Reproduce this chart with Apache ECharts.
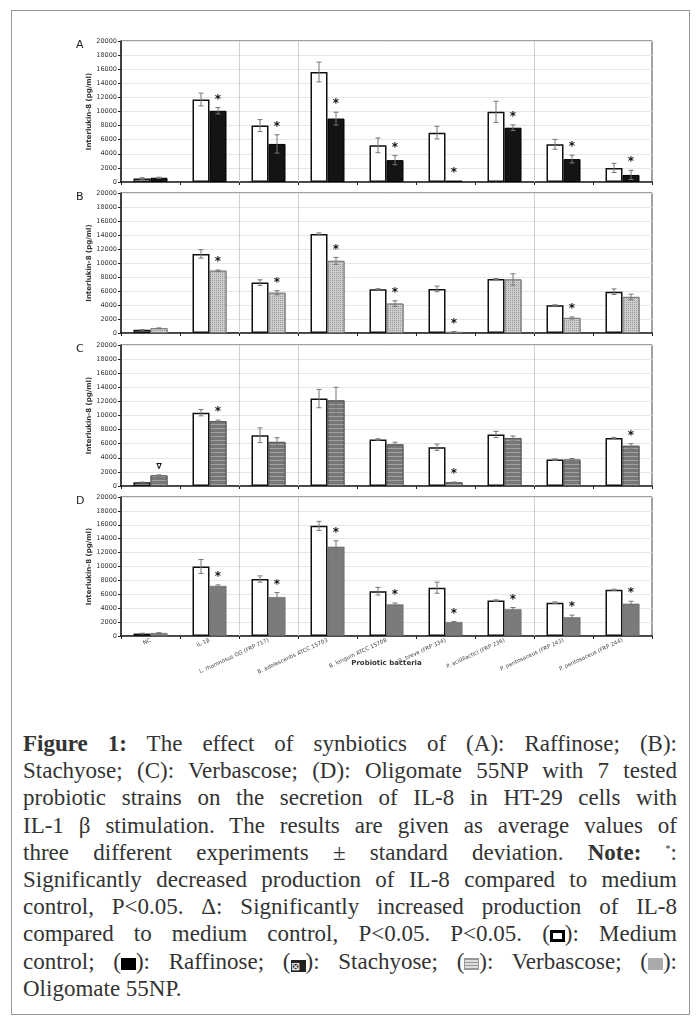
<!DOCTYPE html>
<html>
<head>
<meta charset="utf-8">
<script src="https://cdn.jsdelivr.net/npm/echarts@6/dist/echarts.min.js"></script>
<style>
body{margin:0;background:#fff;}
#frame{position:absolute;left:11px;top:10px;width:677px;height:1003px;border:1px solid #999;}
#main{position:absolute;left:0;top:0;width:697px;height:700px;}
#caption{position:absolute;left:23px;top:730px;width:654px;font-family:"Liberation Serif",serif;font-size:23px;line-height:27.2px;color:#333;}
#caption div{text-align:justify;text-align-last:justify;white-space:nowrap;height:27.2px;}
#caption div.last{text-align-last:left;}
.box{display:inline-block;width:15px;height:12px;vertical-align:-1px;box-sizing:border-box;}
.sup{position:relative;top:-8px;font-size:10px;line-height:0;}
</style>
</head>
<body>
<div id="frame"></div>
<div id="main"></div>
<div id="caption">
<div><b>Figure 1:</b> The effect of synbiotics of (A): Raffinose; (B):</div>
<div>Stachyose; (C): Verbascose; (D): Oligomate 55NP with 7 tested</div>
<div>probiotic strains on the secretion of IL-8 in HT-29 cells with</div>
<div>IL-1 β stimulation. The results are given as average values of</div>
<div>three different experiments ± standard deviation. <b>Note:</b> <span class="sup">*</span>:</div>
<div>Significantly decreased production of IL-8 compared to medium</div>
<div>control, P&lt;0.05. Δ: Significantly increased production of IL-8</div>
<div>compared to medium control, P&lt;0.05. P&lt;0.05. (<span class="box" style="border:3px solid #000;background:#fff"></span>): Medium</div>
<div>control; (<span class="box" style="background:#000"></span>): Raffinose; (<span class="box" style="background:#222;color:#fff;font-size:11px;line-height:12px;text-align:center">⊠</span>): Stachyose; (<span class="box" style="background:repeating-linear-gradient(#999 0 1px,#ddd 1px 3px);border:1px solid #999"></span>): Verbascose; (<span class="box" style="background:#aaa"></span>):</div>
<div class="last">Oligomate 55NP.</div>
</div>
<script>
var categories = ['NC', 'IL-1β', 'L. rhamnosus GG (FRP 717)', 'B. adolescentis ATCC 15703', 'B. longum ATCC 15708',
	'B. breve (FRP 334)', 'P. acidilactici (FRP 236)', 'P. pentosaceus (FRP 243)', 'P. pentosaceus (FRP 244)'];
var yTicks = [0, 20000, 2000];
var dividers = [2, 3, 7]; // categories that get a light vertical line on their left

// A: raffinose
var ctrlA = [500, 11700, 8000, 15600, 5200, 7000, 9950, 5350, 2000];
var ctrlErrA = [100, 900, 850, 1400, 1050, 900, 1500, 700, 650];
var raffinose = [600, 10100, 5400, 9000, 3100, 200, 7700, 3250, 1000];
var raffinoseErr = [80, 450, 1300, 900, 650, 0, 400, 550, 650];
var sigA = ['', '*', '*', '*', '*', '*', '*', '*', '*'];

// B: stachyose
var ctrlB = [450, 11300, 7200, 14150, 6250, 6300, 7700, 3950, 5900];
var ctrlErrB = [50, 600, 400, 150, 80, 400, 80, 80, 400];
var stachyose = [680, 8900, 5750, 10300, 4200, 150, 7650, 2150, 5150];
var stachyoseErr = [50, 100, 300, 500, 400, 50, 800, 150, 400];
var sigB = ['', '*', '*', '*', '*', '*', '', '*', ''];

// C: verbascose
var ctrlC = [520, 10400, 7200, 12400, 6600, 5500, 7300, 3750, 6800];
var ctrlErrC = [50, 450, 1050, 1300, 100, 450, 450, 100, 100];
var verbascose = [1500, 9200, 6250, 12150, 5900, 520, 6800, 3750, 5700];
var verbascoseErr = [80, 150, 600, 1850, 300, 50, 300, 150, 300];
var sigC = ['∇', '*', '', '', '', '*', '', '', '*'];

// D: oligomate 55NP
var ctrlD = [350, 10000, 8200, 15850, 6450, 6950, 5100, 4800, 6650];
var ctrlErrD = [50, 1000, 450, 650, 550, 800, 100, 100, 80];
var oligomate = [430, 7200, 5600, 12850, 4550, 2000, 3850, 2700, 4650];
var oligomateErr = [50, 150, 650, 850, 200, 80, 250, 300, 350];
var sigD = ['', '*', '*', '*', '*', '*', '*', '*', '*'];

var panels = [
	{letter: 'A', top: 41, height: 141, ctrl: ctrlA, ctrlErr: ctrlErrA, trt: raffinose, trtErr: raffinoseErr, sig: sigA,
		style: {color: '#141414', borderColor: '#000', borderWidth: 1}},
	{letter: 'B', top: 193, height: 140, ctrl: ctrlB, ctrlErr: ctrlErrB, trt: stachyose, trtErr: stachyoseErr, sig: sigB,
		style: {color: '#cdcdcd', borderColor: '#777', borderWidth: 0.8,
			decal: {symbol: 'rect', symbolSize: 1, color: 'rgba(120,120,120,0.6)', dashArrayX: [1, 1], dashArrayY: [1, 1]}}},
	{letter: 'C', top: 345, height: 141, ctrl: ctrlC, ctrlErr: ctrlErrC, trt: verbascose, trtErr: verbascoseErr, sig: sigC,
		style: {color: '#777', borderColor: '#555', borderWidth: 0.8,
			decal: {symbol: 'rect', symbolSize: 1, color: 'rgba(170,170,170,0.8)', dashArrayX: [1, 0], dashArrayY: [1, 3]}}},
	{letter: 'D', top: 497, height: 139, ctrl: ctrlD, ctrlErr: ctrlErrD, trt: oligomate, trtErr: oligomateErr, sig: sigD,
		style: {color: '#7b7b7b', borderColor: '#666', borderWidth: 0.6}}
];

var barW = 17;
var grids = [], xAxes = [], yAxes = [], titles = [], series = [];

panels.forEach(function(p, k){
	var last = k == panels.length - 1;
	grids.push({left: 121, right: 45, top: p.top, height: p.height, show: true, borderColor: '#444', borderWidth: 1});
	titles.push({text: p.letter, left: 71, top: p.top - 6, textStyle: {fontSize: 11, fontWeight: 'normal', color: '#222', fontFamily: 'DejaVu Sans'}});
	xAxes.push({
		type: 'category', gridIndex: k, data: categories,
		axisLine: {lineStyle: {color: '#222', width: 1.5}},
		axisTick: {show: true, length: 3, lineStyle: {color: '#222'}},
		axisLabel: {show: last, interval: 0, rotate: 25, fontSize: 5.5, color: '#444', margin: 4, fontFamily: 'DejaVu Sans'},
		splitLine: {show: false},
		name: last ? 'Probiotic bacteria' : '', nameLocation: 'middle', nameGap: 24, nameMoveOverlap: false,
		nameTextStyle: {fontSize: 7, fontWeight: 'bold', color: '#333', fontFamily: 'DejaVu Sans'}
	});
	yAxes.push({
		type: 'value', gridIndex: k, min: yTicks[0], max: yTicks[1], interval: yTicks[2],
		axisLine: {show: true, lineStyle: {color: '#222', width: 1.5}},
		axisTick: {show: true, length: 3, lineStyle: {color: '#222'}},
		axisLabel: {fontSize: 6.5, color: '#333', margin: 4, fontFamily: 'DejaVu Sans', formatter: function(v){ return String(v); }},
		splitLine: {lineStyle: {color: '#e6e6e6', width: 1}},
		name: 'Interlukin-8 (pg/ml)', nameLocation: 'middle', nameGap: 28, nameMoveOverlap: false,
		nameTextStyle: {fontSize: 7, fontWeight: 'bold', color: '#333', fontFamily: 'DejaVu Sans'}
	});
	// light vertical dividers between groups
	series.push({
		type: 'custom', xAxisIndex: k, yAxisIndex: k, z: 1, silent: true,
		data: dividers.map(function(c){ return [c, 0]; }),
		encode: {x: 0, y: 1},
		renderItem: function(params, api){
			var c = api.value(0);
			var w = api.size([1, 0])[0];
			var t = api.coord([c, yTicks[1]]);
			var b = api.coord([c, yTicks[0]]);
			var x = Math.round(t[0] - w / 2) + 0.5;
			return {type: 'line', shape: {x1: x, y1: t[1], x2: x, y2: b[1]}, style: {stroke: '#d0d0d0', lineWidth: 1}};
		}
	});
	series.push({
		type: 'bar', xAxisIndex: k, yAxisIndex: k, data: p.ctrl, barWidth: barW, barGap: '0%',
		itemStyle: {color: '#fff', borderColor: '#111', borderWidth: 1.5}
	});
	series.push({
		type: 'bar', xAxisIndex: k, yAxisIndex: k, data: p.trt, barWidth: barW, barGap: '0%',
		itemStyle: p.style
	});
	// error bars + significance marks
	var errData = p.ctrl.map(function(v, i){ return [i, v, p.ctrlErr[i], p.trt[i], p.trtErr[i]]; });
	series.push({
		type: 'custom', xAxisIndex: k, yAxisIndex: k, data: errData, z: 5, silent: true,
		encode: {x: 0, y: 1},
		renderItem: function(params, api){
			var i = api.value(0);
			var kids = [];
			var pairs = [[api.value(1), api.value(2), -1], [api.value(3), api.value(4), 1]];
			var topY = 0, xT = 0;
			pairs.forEach(function(pr){
				var hi = api.coord([i, pr[0] + pr[1]]);
				var lo = api.coord([i, Math.max(pr[0] - pr[1], 0)]);
				var x = hi[0] + pr[2] * barW / 2;
				if(pr[1] > 0){
					kids.push({type: 'line', shape: {x1: x, y1: hi[1], x2: x, y2: lo[1]}, style: {stroke: '#777', lineWidth: 1}});
					kids.push({type: 'line', shape: {x1: x - 2.5, y1: hi[1], x2: x + 2.5, y2: hi[1]}, style: {stroke: '#777', lineWidth: 1}});
					kids.push({type: 'line', shape: {x1: x - 2.5, y1: lo[1], x2: x + 2.5, y2: lo[1]}, style: {stroke: '#777', lineWidth: 1}});
				}
				topY = hi[1]; xT = x;
			});
			var s = p.sig[i];
			if(s){
				kids.push({type: 'text', x: xT, y: topY - 8, style: {text: s, fill: '#111', fontSize: s == '*' ? 12 : 8,
					fontWeight: 'bold', fontFamily: 'DejaVu Sans', align: 'center', verticalAlign: 'middle'}});
			}
			return {type: 'group', children: kids};
		}
	});
});

var chart = echarts.init(document.getElementById('main'));
chart.setOption({
	animation: false,
	title: titles,
	grid: grids,
	xAxis: xAxes,
	yAxis: yAxes,
	series: series
});
</script>
</body>
</html>
